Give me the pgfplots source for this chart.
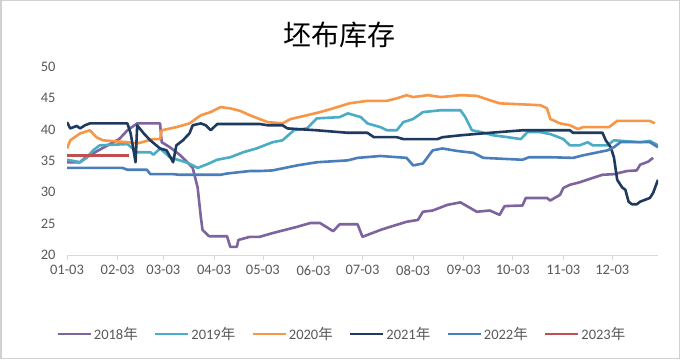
\documentclass[border=0pt]{standalone}
\usepackage{pgfplots}
\pgfplotsset{compat=1.18}
\usepackage{fontspec}
\setmainfont{Carlito}
\newfontfamily\cjk{Noto Sans CJK SC}
\definecolor{c18}{HTML}{7E649E}
\definecolor{c19}{HTML}{4BACC6}
\definecolor{c20}{HTML}{F79646}
\definecolor{c21}{HTML}{1F3A5F}
\definecolor{c22}{HTML}{4A7EBB}
\definecolor{c23}{HTML}{C0504D}
\definecolor{tickgray}{HTML}{595959}
\begin{document}
\begin{tikzpicture}[x=1pt,y=1pt]
\path[use as bounding box] (0,0) rectangle (680,359);
\fill[white] (0,0) rectangle (680,359);
\draw[black!18, line width=1.5pt] (0.75,0.75) rectangle (679.25,358.25);
\node[font=\cjk\fontsize{28}{30}\selectfont, text=black] at (339,324) {坯布库存};
\begin{axis}[
  at={(67pt,104pt)}, anchor=south west,
  scale only axis, width=591pt, height=188pt,
  xmin=3, xmax=365, ymin=20, ymax=50,
  ytick={20,25,30,35,40,45,50},
  xtick={3,34,62,93,123,154,184,215,246,276,307,337},
  xticklabels={01-03,02-03,03-03,04-03,05-03,06-03,07-03,08-03,09-03,10-03,11-03,12-03},
  axis x line*=bottom, axis y line*=left,
  x axis line style={draw=black!15, line width=0.8pt, -},
  y axis line style={draw=none},
  ytick style={draw=none},
  xtick style={draw=black!15, line width=0.8pt},
  tick align=outside, major tick length=5pt,
  tick label style={font=\fontsize{14.5}{16}\selectfont, text=tickgray},
  /pgf/number format/assume math mode=true,
  yticklabel style={xshift=-3pt},
  xticklabel style={yshift=-2pt},
  legend style={at={(0.465,-0.42)}, anchor=center, draw=none, fill=none,
    font=\fontsize{14.5}{16}\selectfont, text=tickgray, legend columns=6,
    /tikz/every even column/.append style={column sep=14pt},
    /tikz/every odd column/.append style={column sep=0pt},
    inner sep=0pt},
  legend cell align=left,
  legend image code/.code={\draw[#1, line width=2.6pt] (0pt,0pt) -- (33pt,0pt);},
  every axis plot/.append style={line width=2.6pt, line join=round},
]
\addplot[c18] coordinates {
(3,34.8)(11,34.8)(14,35.5)(23,36.8)(35,38.5)(40,39.9)(46,41)(60,41)(61,38)(66,37.2)(72,36)(76,35)(80,33.9)(83,30.8)(85,26)(86,24)(90,23)(101,23)(103,21.3)(107,21.3)(108,22.4)(115,22.9)(121,22.9)(129,23.5)(144,24.5)(152,25.1)(158,25.1)(166,23.8)(170,24.9)(181,24.9)(184,22.9)(189,23.4)(195,24)(201,24.5)(211,25.3)(218,25.6)(221,26.9)(227,27.1)(236,28)(244,28.4)(250,27.5)(254,26.9)(262,27.1)(268,26.4)(271,27.8)(282,27.9)(284,29.1)(297,29.1)(299,28.7)(305,29.6)(307,30.7)(311,31.2)(317,31.6)(325,32.3)(331,32.8)(338,32.9)(346,33.4)(352,33.5)(354,34.4)(359,34.9)(362,35.5)
};
\addlegendentry{2018{\cjk 年}}
\addplot[c19] coordinates {
(3,35.2)(11,34.8)(15,35.5)(19,36.7)(23,37.5)(40,37.7)(46,36.4)(54,36.4)(56,36)(60,37)(66,35.6)(77,34.7)(83,33.9)(89,34.5)(95,35.2)(103,35.6)(111,36.4)(119,37)(121,37.2)(129,38)(135,38.3)(142,39.9)(150,40.2)(156,41.8)(170,42)(175,42.6)(183,42)(187,41)(195,40.4)(199,39.9)(205,39.9)(209,41.2)(215,41.7)(221,42.8)(232,43.1)(244,43.1)(247,42)(251,39.9)(257,39.6)(264,39.1)(273,38.8)(281,38.5)(285,39.6)(293,39.6)(299,39.3)(307,38.5)(311,37.5)(317,37.5)(322,38)(325,37.5)(334,37.5)(338,38.3)(354,38)(360,38.2)(365,37.5)
};
\addlegendentry{2019{\cjk 年}}
\addplot[c20] coordinates {
(3,37)(5,38.3)(11,39.4)(17,39.9)(21,38.8)(25,38.3)(40,38)(46,37.8)(56,38.5)(60,38.5)(61,39.9)(70,40.4)(78,41)(85,42.3)(91,42.8)(97,43.6)(103,43.4)(109,43)(115,42.3)(126,41.2)(135,41)(140,41.7)(150,42.3)(158,42.8)(166,43.4)(176,44.2)(187,44.6)(199,44.6)(205,45)(211,45.5)(215,45.2)(224,45.5)(232,45.2)(240,45.4)(244,45.5)(254,45.4)(262,44.7)(268,44.2)(293,43.9)(297,43.4)(299,41.7)(305,41)(311,40.7)(316,40.1)(319,40.4)(335,40.4)(340,41.4)(360,41.4)(363,41)
};
\addlegendentry{2020{\cjk 年}}
\addplot[c21] coordinates {
(3,41.2)(5,40.2)(9,40.6)(11,40.2)(14,40.7)(17,41)(40,41)(42,39.4)(45,34.8)(46,40.7)(50,39.4)(54,38.3)(60,37)(64,36.7)(68,34.8)(70,37.5)(74,38.3)(78,39.4)(80,40.7)(85,41)(88,40.7)(91,39.9)(95,40.9)(121,40.9)(126,40.7)(135,40.7)(138,40.2)(156,39.9)(175,39.5)(187,39.5)(191,38.8)(205,38.8)(209,38.5)(230,38.5)(233,38.8)(244,39.1)(262,39.5)(282,39.9)(311,39.9)(313,39.5)(331,39.5)(333,38.3)(336,37.2)(338,35.6)(340,32)(343,30.8)(345,30.4)(347,28.5)(349,28.1)(352,28.1)(354,28.5)(360,29.1)(362,29.9)(365,32)
};
\addlegendentry{2021{\cjk 年}}
\addplot[c22] coordinates {
(3,33.9)(37,33.9)(40,33.6)(52,33.6)(54,32.9)(68,32.9)(72,32.8)(97,32.8)(101,33)(115,33.4)(121,33.4)(129,33.5)(144,34.3)(156,34.8)(175,35.1)(181,35.5)(195,35.8)(211,35.5)(215,34.3)(221,34.6)(227,36.7)(233,37)(242,36.6)(252,36.3)(258,35.5)(282,35.2)(286,35.6)(299,35.6)(313,35.5)(319,35.9)(334,36.7)(338,37.2)(342,38)(360,38)(365,37.2)
};
\addlegendentry{2022{\cjk 年}}
\addplot[c23] coordinates {
(3,35.9)(41,35.9)
};
\addlegendentry{2023{\cjk 年}}
\end{axis}
\end{tikzpicture}
\end{document}
